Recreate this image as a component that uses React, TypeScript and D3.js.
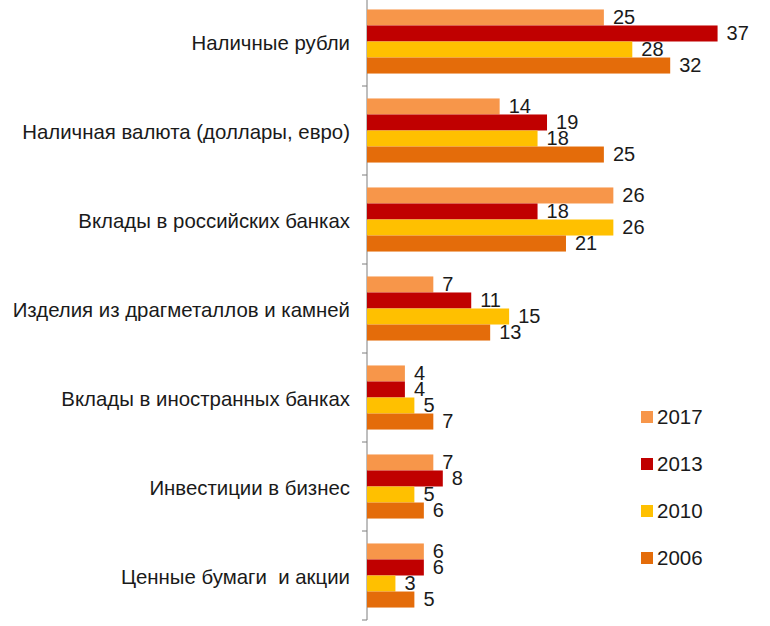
import React, { useEffect, useRef } from "react";
import * as d3 from "d3";

// categories, top to bottom
const categories = [
  "Наличные рубли",
  "Наличная валюта (доллары, евро)",
  "Вклады в российских банках",
  "Изделия из драгметаллов и камней",
  "Вклады в иностранных банках",
  "Инвестиции в бизнес",
  "Ценные бумаги  и акции",
];

const years = ["2017", "2013", "2010", "2006"];
const colors = ["#F7964A", "#C00000", "#FFC000", "#E46C0A"];

const values2017 = [25, 14, 26, 7, 4, 7, 6];
const values2013 = [37, 19, 18, 11, 4, 8, 6];
const values2010 = [28, 18, 26, 15, 5, 5, 3];
const values2006 = [32, 25, 21, 13, 7, 6, 5];

const series = [values2017, values2013, values2010, values2006];

const App = () => {
  const ref = useRef<SVGSVGElement>(null);

  useEffect(() => {
    const svg = d3.select(ref.current);
    svg.selectAll("*").remove();

    const font = "'Liberation Sans', Arial, sans-serif";

    // scales
    const y = d3
      .scaleBand()
      .domain(categories)
      .range([-3, 620])
      .paddingInner(0.28)
      .paddingOuter(0.14);
    const yInner = d3.scaleBand().domain(years).range([0, y.bandwidth()]);
    const x = d3.scaleLinear().domain([0, 40]).range([367, 746]);

    // axis line and ticks between groups
    const axisX = x(0);
    svg
      .append("line")
      .attr("x1", axisX)
      .attr("x2", axisX)
      .attr("y1", 0)
      .attr("y2", 620)
      .attr("stroke", "#7f7f7f")
      .attr("stroke-width", 1);

    const step = y.step();
    const top0 = y(categories[0])! - (step - y.bandwidth()) / 2;
    svg
      .selectAll(".tick")
      .data(d3.range(1, categories.length + 1))
      .enter()
      .append("line")
      .attr("x1", axisX - 5)
      .attr("x2", axisX)
      .attr("y1", (i) => top0 + i * step)
      .attr("y2", (i) => top0 + i * step)
      .attr("stroke", "#7f7f7f");

    // category labels
    svg
      .selectAll(".cat")
      .data(categories)
      .enter()
      .append("text")
      .attr("x", 350)
      .attr("y", (d) => y(d)! + y.bandwidth() / 2 + 1)
      .attr("dy", "0.35em")
      .attr("text-anchor", "end")
      .style("font-family", font)
      .style("font-size", "20.4px")
      .style("white-space", "pre")
      .style("fill", "#1a1a1a")
      .text((d) => d);

    // bars and labels
    years.forEach((yr, s) => {
      const g = svg.append("g");
      g.selectAll("rect")
        .data(series[s])
        .enter()
        .append("rect")
        .attr("x", axisX)
        .attr("y", (d, i) => y(categories[i])! + yInner(yr)!)
        .attr("width", (d) => x(d) - axisX)
        .attr("height", yInner.bandwidth())
        .attr("fill", colors[s]);

      g.selectAll("text")
        .data(series[s])
        .enter()
        .append("text")
        .attr("x", (d) => x(d) + 9)
        .attr("y", (d, i) => y(categories[i])! + yInner(yr)! + yInner.bandwidth() - 1.5)
        .style("font-family", font)
        .style("font-size", "20px")
        .style("fill", "#1a1a1a")
        .text((d) => d);
    });

    // legend
    const ly = d3.scalePoint().domain(years).range([417, 558]);
    const legend = svg
      .selectAll(".legend")
      .data(years)
      .enter()
      .append("g")
      .attr("transform", (d) => `translate(641,${ly(d)})`);
    legend
      .append("rect")
      .attr("x", 0)
      .attr("y", -6)
      .attr("width", 12)
      .attr("height", 12)
      .attr("fill", (d, i) => colors[i]);
    legend
      .append("text")
      .attr("x", 16)
      .attr("y", 0)
      .attr("dy", "0.35em")
      .style("font-family", font)
      .style("font-size", "20.5px")
      .style("fill", "#1a1a1a")
      .text((d) => d);
  }, []);

  return (
    <svg
      ref={ref}
      width={770}
      height={626}
      style={{ position: "absolute", left: 0, top: 0, background: "#fff" }}
    />
  );
};

export default App;
